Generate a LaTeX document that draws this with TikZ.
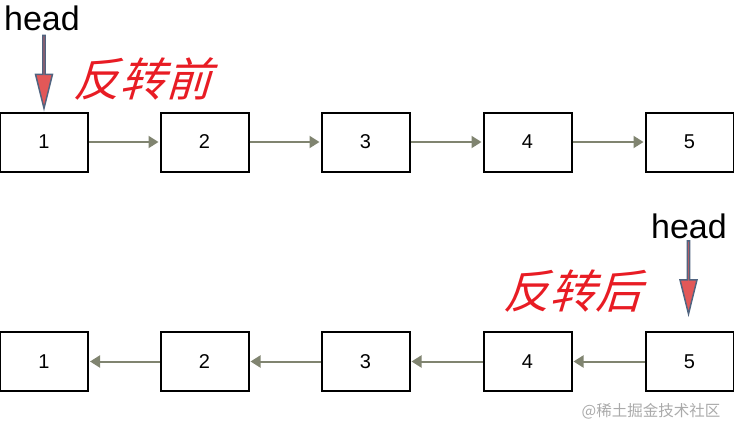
\documentclass[tikz,border=0pt]{standalone}
\usepackage{fontspec}
\setmainfont{Liberation Sans}
\newfontfamily\cjk[FakeSlant=0.3]{Noto Sans CJK SC}
\newfontfamily\cjkplain{Noto Sans CJK SC}
\usepackage{tikz}
\usetikzlibrary{shapes.arrows,arrows.meta,positioning,calc}
\definecolor{linkgray}{RGB}{128,132,112}
\definecolor{ptrred}{RGB}{226,88,88}
\definecolor{ptrblue}{RGB}{80,100,128}
\definecolor{titlered}{RGB}{232,28,36}
\definecolor{markgray}{RGB}{170,170,170}

\begin{document}
\begin{tikzpicture}[
      x=1pt, y=-1pt,
      cell/.style={rectangle, draw=black, line width=2pt, fill=white,
                   minimum width=88pt, minimum height=59pt, inner sep=0pt,
                   font=\fontsize{20}{20}\selectfont},
      link/.style={-{Triangle[length=10pt,width=12pt]}, line width=2pt,
                   color=linkgray, shorten >=1pt},
      ptr/.style={single arrow, rotate=-90, fill=ptrred, draw=ptrblue,
                  line width=1.5pt, minimum width=17pt, minimum height=73pt,
                  single arrow head extend=5pt, single arrow tip angle=28,
                  inner sep=0pt},
      headlbl/.style={font=\fontsize{34}{34}\selectfont},
      title/.style={text=titlered, font=\cjk\fontsize{46}{46}\selectfont},
    ]
      \useasboundingbox (0,0) rectangle (734,434);
      \node[cell] (a1) at (44,142) {1};
      \node[cell] (a2) at (204.5,142) {2};
      \node[cell] (a3) at (365.5,142) {3};
      \node[cell] (a4) at (527.5,142) {4};
      \node[cell] (a5) at (689.5,142) {5};
      \draw[link] (a1.east) -- (a2.west);
      \draw[link] (a2.east) -- (a3.west);
      \draw[link] (a3.east) -- (a4.west);
      \draw[link] (a4.east) -- (a5.west);
      \node[ptr, anchor=tip] (p1) at (a1.north) {};
      \node[headlbl, anchor=base] (h1) at (42,30) {head};
      \node[title, anchor=west] (t1) at (70,79) {反转前};

      \node[cell] (b1) at (44,361.5) {1};
      \node[cell] (b2) at (204.5,361.5) {2};
      \node[cell] (b3) at (365.5,361.5) {3};
      \node[cell] (b4) at (527.5,361.5) {4};
      \node[cell] (b5) at (689.5,361.5) {5};
      \draw[link] (b2.west) -- (b1.east);
      \draw[link] (b3.west) -- (b2.east);
      \draw[link] (b4.west) -- (b3.east);
      \draw[link] (b5.west) -- (b4.east);
      \node[ptr, anchor=tip] (p2) at ($(b5.north)+(-1,-14)$) {};
      \node[headlbl, anchor=base] (h2) at (689,238) {head};
      \node[title, anchor=west] (t2) at (500,291) {反转后};

      \node[text=markgray, font=\cjkplain\fontsize{15.5}{15.5}\selectfont]
            (mark) at (651,411) {@稀土掘金技术社区};
    \end{tikzpicture}
\end{document}
